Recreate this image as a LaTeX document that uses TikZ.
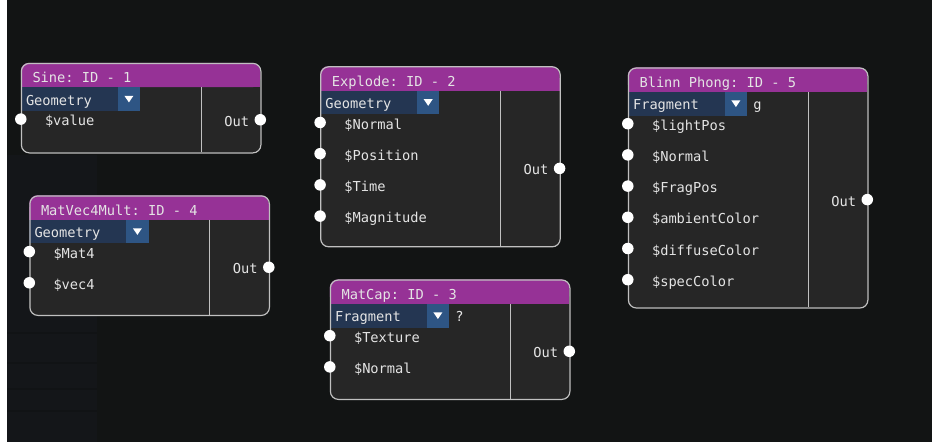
\documentclass[tikz,border=0pt]{standalone}
\usepackage{fontspec}
\setmonofont{DejaVu Sans Mono}

\definecolor{canvas}{HTML}{121414}
\definecolor{sidepanel}{HTML}{141619}
\definecolor{sideband}{HTML}{111315}
\definecolor{nodebody}{HTML}{262626}
\definecolor{titlebar}{HTML}{963296}
\definecolor{combo}{HTML}{243652}
\definecolor{combobtn}{HTML}{2E5584}
\definecolor{rim}{HTML}{C0C0C0}
\definecolor{ink}{HTML}{E4E4E4}

\tikzset{
  txt/.style={text=ink, font=\ttfamily\fontsize{13.7}{16}\selectfont, inner sep=0pt},
  pin/.style={circle, fill=white, inner sep=0pt, minimum size=11.5pt},
  nodebox/.style={rectangle, rounded corners=8pt, draw=rim, line width=1.2pt,
    inner sep=0pt, minimum width=239.5pt, anchor=north west},
}

% #1 name, #2 left, #3 top, #4 height, #5 title, #6 stage, #7 text after the combo, #8 inputs
\newcommand\shadernode[8]{%
  \begin{scope}[shift={(#2,#3)}]
    \fill[nodebody, rounded corners=8pt] (0,0) rectangle (239.5,#4);
    \fill[titlebar, rounded corners=8pt] (0,0) rectangle (239.5,24.4);
    \fill[titlebar] (0,12) rectangle (239.5,24.4);
    \fill[combo] (0,24.4) rectangle (97,48.1);
    \fill[combobtn] (97,24.4) rectangle (119.3,48.1);
    \fill[white] (103.6,33.0) -- (112.6,33.0) -- (108.1,39.6) -- cycle;
    \draw[rim, line width=1pt] (180.5,24.4) -- (180.5,#4);
    \node[nodebox, minimum height=#4pt] (#1) at (0,0) {};
    \node[txt, anchor=base west] (#1-title) at (11.5,19.8) {#5};
    \node[txt, anchor=base west] (#1-stage) at (5,42.5) {#6};
    \node[txt, anchor=base west] (#1-extra) at (125.3,42.5) {#7};
    \pgfmathsetmacro\outy{(24.4+#4)/2}
    \node[pin] (#1-out) at (239.5,\outy) {};
    \node[txt, anchor=base east] (#1-outlabel) at (228.5,\outy+6.5) {Out};
    \foreach \lab [count=\i] in {#8} {
      \pgfmathsetmacro\py{56.3+31.2*(\i-1)}
      \node[pin] (#1-in\i) at (0,\py) {};
      \node[txt, anchor=base west] (#1-label\i) at (24,\py+6.5) {\lab};
    }
  \end{scope}%
}

\begin{document}
\begin{tikzpicture}[x=1pt, y=-1pt]
  % canvas
  \fill[white] (0,0) rectangle (932,442);
  \fill[canvas] (7,0) rectangle (932,442);
  \useasboundingbox (0,0) rectangle (932,442);
  % faint side panel with row bands
  \fill[sidepanel] (7,155) rectangle (97,442);
  \foreach \by in {332,362,388,410}
    \fill[sideband] (7,\by) rectangle (97,\by+1.5);

  \shadernode{sine}{20.8}{62.8}{89.5}{Sine: ID - 1}{Geometry}{}{\$value}
  \shadernode{matvec}{29.3}{195.3}{119.5}{MatVec4Mult: ID - 4}{Geometry}{}{\$Mat4,\$vec4}
  \shadernode{explode}{320.1}{66.2}{180}{Explode: ID - 2}{Geometry}{}{\$Normal,\$Position,\$Time,\$Magnitude}
  \shadernode{matcap}{329.8}{279.4}{119.4}{MatCap: ID - 3}{Fragment}{?}{\$Texture,\$Normal}
  \shadernode{blinn}{627.8}{67.4}{240}{Blinn Phong: ID - 5}{Fragment}{g}{\$lightPos,\$Normal,\$FragPos,\$ambientColor,\$diffuseColor,\$specColor}
\end{tikzpicture}
\end{document}
